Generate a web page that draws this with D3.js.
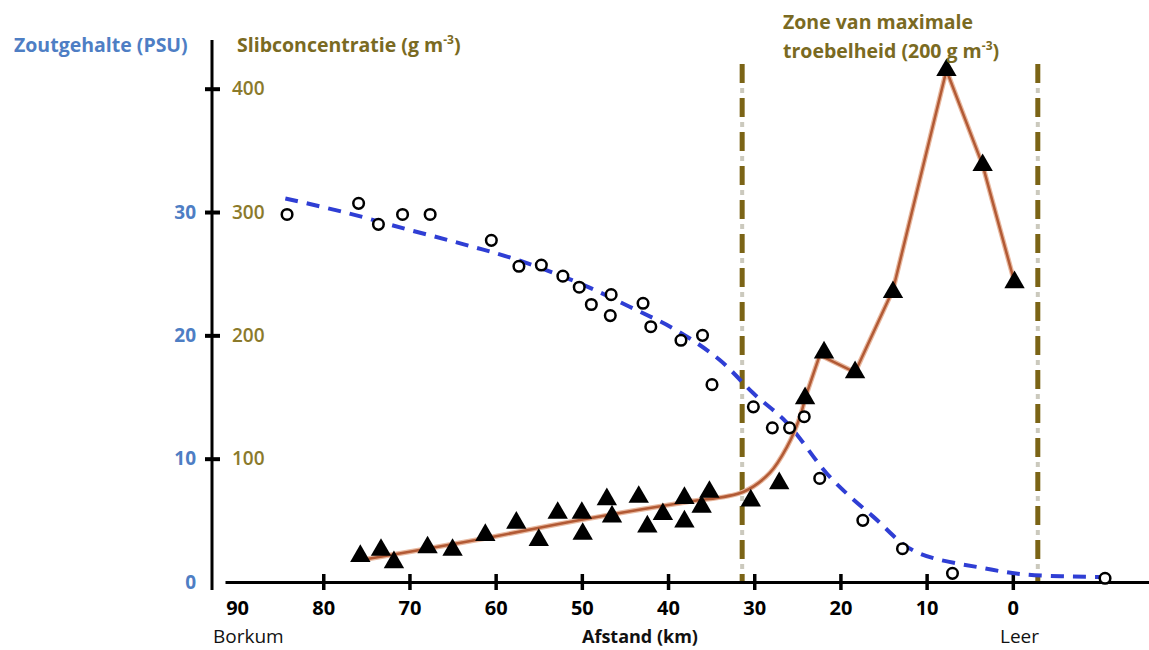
<!DOCTYPE html>
<html>
<head>
<meta charset="utf-8">
<script src="https://cdn.jsdelivr.net/npm/d3@7"></script>
<style>
  body { margin: 0; background: #fff; }
  text { font-family: "Open Sans", sans-serif; }
</style>
</head>
<body>
<script>
// Salinity measurements (open circles)
const salinityKm = [84.2, 75.9, 73.6, 70.8, 67.6, 60.5, 57.3, 54.7, 52.2, 50.3, 48.9, 46.6, 46.7, 42.9, 42.0, 38.5, 36.0, 34.9, 30.1, 27.9, 25.9, 24.2, 22.4, 17.4, 12.8, 7.0, -10.7];
const salinity = [29.8, 30.7, 29.0, 29.8, 29.8, 27.7, 25.6, 25.7, 24.8, 23.9, 22.5, 23.3, 21.6, 22.6, 20.7, 19.6, 20.0, 16.0, 14.2, 12.5, 12.5, 13.4, 8.4, 5.0, 2.7, 0.7, 0.3];
// Salinity trend (blue dashed)
const salinityFitKm = [84.4, 77.1, 70.3, 63.8, 57.4, 50.2, 44.4, 39.0, 34.0, 30.1, 26.2, 21.2, 16.2, 11.4, 3.2, -1.6, -10.7];
const salinityFit = [31.1, 29.9, 28.6, 27.4, 26.1, 24.2, 22.3, 20.4, 18.0, 15.3, 12.9, 8.5, 5.3, 2.5, 1.1, 0.6, 0.4];
// Sediment measurements (triangles)
const sedimentKm = [75.7, 73.3, 71.8, 67.9, 65.0, 61.2, 57.6, 55.0, 52.8, 50.0, 49.9, 47.1, 46.5, 43.4, 42.4, 40.6, 38.1, 38.1, 36.1, 35.2, 30.4, 27.1, 24.1, 21.9, 18.3, 13.9, 7.7, 3.5, -0.2];
const sediment = [21, 26, 16, 28, 26, 38, 48, 34, 56, 56, 39, 67, 53, 69, 45, 55, 68, 49, 61, 73, 66, 80, 149, 186, 170, 235, 415, 338, 243];
// Sediment trend (brown): smooth part, then straight segments through the peak
const sedimentFitKm = [74.9, 68.8, 61.0, 53.3, 45.6, 37.8, 31.3, 28.2, 26.2, 24.7, 24.1];
const sedimentFit = [18.7, 26.0, 35.7, 46.2, 56.0, 64.9, 73.0, 88.4, 109.5, 133.8, 149];
const sedimentPeakKm = [24.1, 22.4, 18.3, 13.9, 7.7, 3.5, -0.2];
const sedimentPeak = [149, 184, 170, 237, 415, 338, 243];

const kmTicks = [90, 80, 70, 60, 50, 40, 30, 20, 10, 0];
const salinityTicks = [0, 10, 20, 30];
const sedimentTicks = [100, 200, 300, 400];
const zoneKm = [31.4, -2.9];
const zoneTop = 420;

const blue = "#4e7ec4", olive = "#8b7a2b", darkOlive = "#7a6a22";

const svg = d3.select("body").append("svg")
  .attr("width", 1149)
  .attr("height", 650);

const x = d3.scaleLinear().domain([91.4, -15.8]).range([225, 1149]);
const ySal = d3.scaleLinear().domain([0, 30]).range([582, 212]);
const ySed = d3.scaleLinear().domain([0, 400]).range([582, 88.7]);

// zone of maximum turbidity
zoneKm.forEach(function (k) {
  svg.append("line")
    .attr("x1", x(k)).attr("x2", x(k))
    .attr("y1", ySed(zoneTop)).attr("y2", ySed(0) + 1)
    .attr("stroke", "#7b6416").attr("stroke-width", 5)
    .attr("stroke-dasharray", "19,15");
  svg.append("line")
    .attr("x1", x(k)).attr("x2", x(k))
    .attr("y1", ySed(zoneTop)).attr("y2", ySed(0) + 1)
    .attr("stroke", "#cbc9bd").attr("stroke-width", 4)
    .attr("stroke-dasharray", "5,29").attr("stroke-dashoffset", -24);
});

// X axis
const gx = svg.append("g")
  .attr("transform", "translate(0," + ySal(0) + ")")
  .call(d3.axisBottom(x).tickValues(kmTicks).tickSize(8).tickSizeOuter(0).tickPadding(11));
gx.attr("font-family", null).attr("font-size", 20);
gx.select(".domain").attr("stroke", "#000").attr("stroke-width", 3);
gx.selectAll(".tick line").attr("y1", -8).attr("stroke", "#000").attr("stroke-width", 3.5);
gx.selectAll(".tick").filter(function (d) { return d === 90; }).select("line").remove();
gx.selectAll(".tick text").attr("fill", "#000").attr("font-weight", 700);

// Y axis line
svg.append("line")
  .attr("x1", 212).attr("x2", 212)
  .attr("y1", 40).attr("y2", ySal(0) + 8)
  .attr("stroke", "#000").attr("stroke-width", 3);

// Left: salinity labels
const gl = svg.append("g")
  .attr("transform", "translate(212,0)")
  .call(d3.axisLeft(ySal).tickValues(salinityTicks).tickSize(0).tickPadding(16));
gl.attr("font-family", null).attr("font-size", 19);
gl.select(".domain").remove();
gl.selectAll(".tick text").attr("fill", blue).attr("font-weight", 700);

// Right: sediment labels with cross ticks
const gr = svg.append("g")
  .attr("transform", "translate(212,0)")
  .call(d3.axisRight(ySed).tickValues(sedimentTicks).tickSize(8).tickPadding(12));
gr.attr("font-family", null).attr("font-size", 19);
gr.select(".domain").remove();
gr.selectAll(".tick line").attr("x1", -7).attr("stroke", "#000").attr("stroke-width", 4);
gr.selectAll(".tick text").attr("fill", olive).attr("font-weight", 600);

// Salinity trend
const salLine = d3.line()
  .x(function (d, i) { return x(salinityFitKm[i]); })
  .y(function (d) { return ySal(d); })
  .curve(d3.curveCatmullRom);
svg.append("path")
  .attr("d", salLine(salinityFit))
  .attr("fill", "none")
  .attr("stroke", "#2f3ed4")
  .attr("stroke-width", 4)
  .attr("stroke-dasharray", "13,9");

// Sediment trend
const sedLine = d3.line()
  .x(function (d, i) { return x(sedimentFitKm[i]); })
  .y(function (d) { return ySed(d); })
  .curve(d3.curveCatmullRom);
const peakLine = d3.line()
  .x(function (d, i) { return x(sedimentPeakKm[i]); })
  .y(function (d) { return ySed(d); });
[sedLine(sedimentFit), peakLine(sedimentPeak)].forEach(function (p) {
  svg.append("path").attr("d", p).attr("fill", "none")
    .attr("stroke", "#e8b89f").attr("stroke-width", 5).attr("stroke-linejoin", "round");
  svg.append("path").attr("d", p).attr("fill", "none")
    .attr("stroke", "#b25a35").attr("stroke-width", 2.5).attr("stroke-linejoin", "round");
});

// Circles
svg.selectAll(".sal")
  .data(salinity)
  .enter()
  .append("circle")
  .attr("cx", function (d, i) { return x(salinityKm[i]); })
  .attr("cy", function (d) { return ySal(d); })
  .attr("r", 5.3)
  .attr("fill", "#fff")
  .attr("stroke", "#000")
  .attr("stroke-width", 2.5);

// Triangles
svg.selectAll(".sed")
  .data(sediment)
  .enter()
  .append("path")
  .attr("d", d3.symbol().type(d3.symbolTriangle).size(180))
  .attr("transform", function (d, i) { return "translate(" + x(sedimentKm[i]) + "," + ySed(d) + ")"; })
  .attr("fill", "#000");

// Titles
svg.append("text").attr("x", 14).attr("y", 52)
  .attr("font-size", 19.5).attr("font-weight", 700).attr("fill", blue)
  .text("Zoutgehalte (PSU)");

function supText(xp, yp, main, tail) {
  const t = svg.append("text").attr("x", xp).attr("y", yp)
    .attr("font-size", 19.5).attr("font-weight", 700).attr("fill", darkOlive);
  t.append("tspan").text(main);
  t.append("tspan").attr("dy", -8).attr("font-size", 12).text("-3");
  t.append("tspan").attr("dy", 8).text(tail);
}
supText(237, 52, "Slibconcentratie (g m", ")");
svg.append("text").attr("x", 783).attr("y", 29)
  .attr("font-size", 19.5).attr("font-weight", 700).attr("fill", darkOlive)
  .text("Zone van maximale");
supText(783, 58, "troebelheid (200 g m", ")");

svg.append("text").attr("x", 213).attr("y", 643)
  .attr("font-size", 19).attr("fill", "#111").text("Borkum");
svg.append("text").attr("x", 582).attr("y", 643)
  .attr("font-size", 18).attr("font-weight", 700).attr("fill", "#111").text("Afstand (km)");
svg.append("text").attr("x", 1000).attr("y", 643)
  .attr("font-size", 19).attr("fill", "#111").text("Leer");
</script>
</body>
</html>
